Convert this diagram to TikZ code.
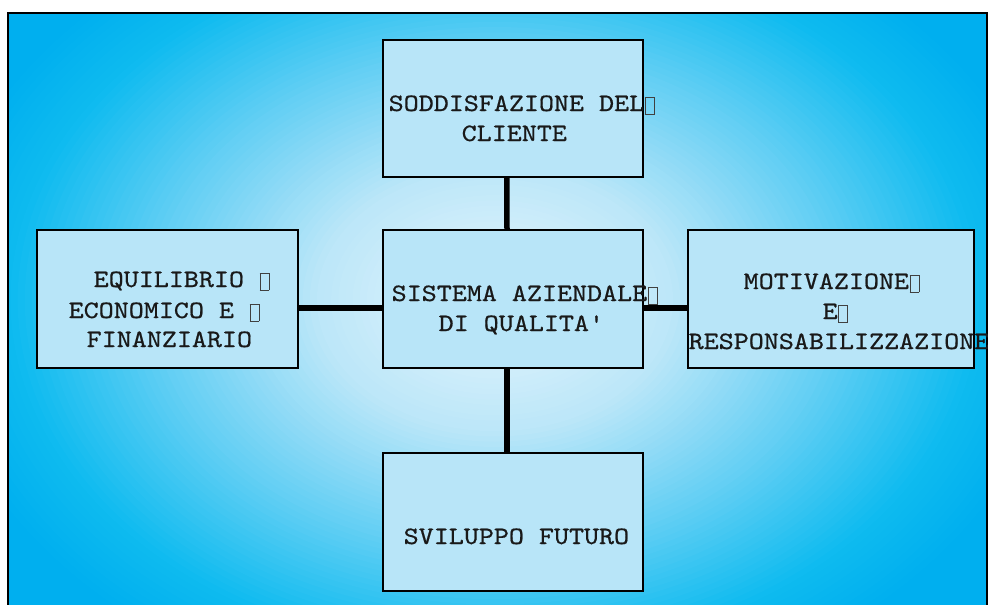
\documentclass[tikz,border=0pt]{standalone}
\usepackage{graphicx}
\usepackage{fontspec}
\newfontfamily\courf{lmmono10-regular.otf}[FakeBold=0.6]
\definecolor{boxfill}{RGB}{184,229,248}
\definecolor{txt}{RGB}{25,25,25}
\definecolor{cfour}{RGB}{0,175,239}
\newcommand\tw[1]{\scalebox{1.145}[1]{#1}}
\newcommand\ndg{\hspace{0.6pt}\raisebox{-3pt}{\color{black!75}\setlength\fboxsep{0pt}\setlength\fboxrule{0.9pt}\fbox{\rule{0pt}{16.5pt}\hspace{8pt}}}}
\tikzset{
  box/.style={draw=black, line width=2pt, fill=boxfill, inner sep=0pt},
  conn/.style={line width=5.5pt, draw=black},
  lbl/.style={anchor=base west, inner sep=0pt, text=txt, font=\courf\fontsize{25}{30}\selectfont},
}
\begin{document}
\begin{tikzpicture}[x=1pt,y=-1pt]
\useasboundingbox (0,0) rectangle (988,605);
\fill[white] (0,0) rectangle (988,605);
% background radial gradient
\begin{scope}
\clip (8,13) rectangle (987,605);
\fill[cfour] (8,13) rectangle (987,605);
\foreach \i in {80,79,...,1}{
  \pgfmathsetmacro\f{\i/80}
  \pgfmathtruncatemacro\R{\f<0.32 ? 232+(188-232)*\f/0.32 : (\f<0.6 ? 188+(100-188)*(\f-0.32)/0.28 : (\f<0.85 ? 100+(15-100)*(\f-0.6)/0.25 : 15+(0-15)*(\f-0.85)/0.15))}
  \pgfmathtruncatemacro\G{\f<0.32 ? 246+(231-246)*\f/0.32 : (\f<0.6 ? 231+(207-231)*(\f-0.32)/0.28 : (\f<0.85 ? 207+(187-207)*(\f-0.6)/0.25 : 187+(175-187)*(\f-0.85)/0.15))}
  \pgfmathtruncatemacro\B{\f<0.32 ? 253+(249-253)*\f/0.32 : (\f<0.6 ? 249+(244-249)*(\f-0.32)/0.28 : (\f<0.85 ? 244+(240-244)*(\f-0.6)/0.25 : 240+(239-240)*(\f-0.85)/0.15))}
  \definecolor{cur}{RGB}{\R,\G,\B}
  \fill[cur] (495,300) ellipse [x radius=570*\f, y radius=420*\f];
}
\end{scope}
\draw[line width=2.5pt, black] (8,13) rectangle (987,640);
% boxes
\node[box, minimum width=259.5pt, minimum height=137.5pt] (top) at (512.75,108.25) {};
\node[box, minimum width=261pt, minimum height=138pt] (lft) at (167.5,299) {};
\node[box, minimum width=260pt, minimum height=138pt] (ctr) at (513,299) {};
\node[box, minimum width=286pt, minimum height=138pt] (rgt) at (831,299) {};
\node[box, minimum width=260pt, minimum height=138pt] (bot) at (513,522) {};
% connectors
\draw[conn] ([xshift=-6pt]top.south) -- ([xshift=-6pt]ctr.north);
\draw[conn] ([xshift=-6pt]ctr.south) -- ([xshift=-6pt]bot.north);
\draw[conn] ([yshift=-9pt]lft.east) -- ([yshift=-9pt]ctr.west);
\draw[conn] ([yshift=-9pt]ctr.east) -- ([yshift=-9pt]rgt.west);
% labels
\node[lbl] (tA1) at (388.5,111) {\tw{SODDISFAZIONE DEL}\ndg};
\node[lbl] (tA2) at (461.5,141) {\tw{CLIENTE}};
\node[lbl] (tL1) at (93.5,287) {\tw{EQUILIBRIO\ }\ndg};
\node[lbl] (tL2) at (68.5,318) {\tw{ECONOMICO E\ }\ndg};
\node[lbl] (tL3) at (86.5,347) {\tw{FINANZIARIO}};
\node[lbl] (tC1) at (391.5,301) {\tw{SISTEMA AZIENDALE}\ndg};
\node[lbl] (tC2) at (438.5,331) {\tw{DI QUALITA'}};
\node[lbl] (tR1) at (743.5,289) {\tw{MOTIVAZIONE}\ndg};
\node[lbl] (tR2) at (822.5,319) {\tw{E}\ndg};
\node[lbl] (tR3) at (688.5,349) {\tw{RESPONSABILIZZAZIONE}};
\node[lbl] (tB) at (403.5,544) {\tw{SVILUPPO FUTURO}};
\end{tikzpicture}
\end{document}
